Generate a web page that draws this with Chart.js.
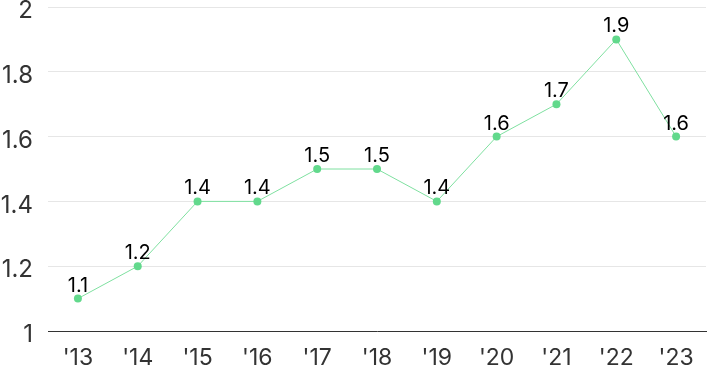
<!DOCTYPE html>
<html><head><meta charset="utf-8">
<script src="https://cdn.jsdelivr.net/npm/chart.js@4"></script>
<style>html,body{margin:0;padding:0;background:#fff}#wrap{width:710px;height:371px}</style>
</head><body><div id="wrap"><canvas id="c"></canvas></div>
<script>
const categories = ["'13","'14","'15","'16","'17","'18","'19","'20","'21","'22","'23"];
const values = [1.1,1.2,1.4,1.4,1.5,1.5,1.4,1.6,1.7,1.9,1.6];
const yTicks = [1,1.2,1.4,1.6,1.8,2];
const FONT = "Inter, Roboto, sans-serif";

const labelPlugin = {
  id: 'vlabels',
  afterDatasetsDraw(chart) {
    const ctx = chart.ctx;
    const meta = chart.getDatasetMeta(0);
    ctx.save();
    ctx.font = "20px " + FONT;
    ctx.fillStyle = "#000";
    ctx.textAlign = "center";
    ctx.textBaseline = "alphabetic";
    meta.data.forEach((pt, i) => {
      ctx.fillText(String(values[i]), pt.x, pt.y - 7);
    });
    ctx.restore();
  }
};

new Chart(document.getElementById('c'), {
  type: 'line',
  data: {
    labels: categories,
    datasets: [{
      data: values,
      borderColor: '#7fe0a0',
      borderWidth: 1,
      pointRadius: 4,
      pointHoverRadius: 4,
      pointBackgroundColor: '#62d98c',
      pointBorderWidth: 0,
      tension: 0
    }]
  },
  options: {
    responsive: true,
    maintainAspectRatio: false,
    animation: false,
    layout: { padding: { top: 7, right: 1, bottom: 0, left: 0 } },
    plugins: { legend: { display: false }, tooltip: { enabled: false } },
    scales: {
      x: {
        offset: true,
        afterFit(axis) { axis.height = 40; axis.paddingLeft = 0; axis.paddingRight = 0; },
        grid: { display: false, drawTicks: false },
        border: { display: true, color: '#333', width: 1 },
        ticks: { color: '#333', font: { family: FONT, size: 23, lineHeight: 1 }, padding: 16, maxRotation: 0 }
      },
      y: {
        min: 1, max: 2,
        afterBuildTicks(axis) { axis.ticks = yTicks.map(v => ({ value: v })); },
        afterFit(axis) { axis.width = 48; axis.paddingTop = 0; axis.paddingBottom = 0; },
        grid: { color: '#e6e6e6', drawTicks: false },
        border: { display: false },
        ticks: { color: '#333', font: { family: FONT, size: 24 }, padding: 15, labelOffset: 4,
          callback: v => String(Math.round(v * 10) / 10) }
      }
    }
  },
  plugins: [labelPlugin]
});
</script></body></html>
